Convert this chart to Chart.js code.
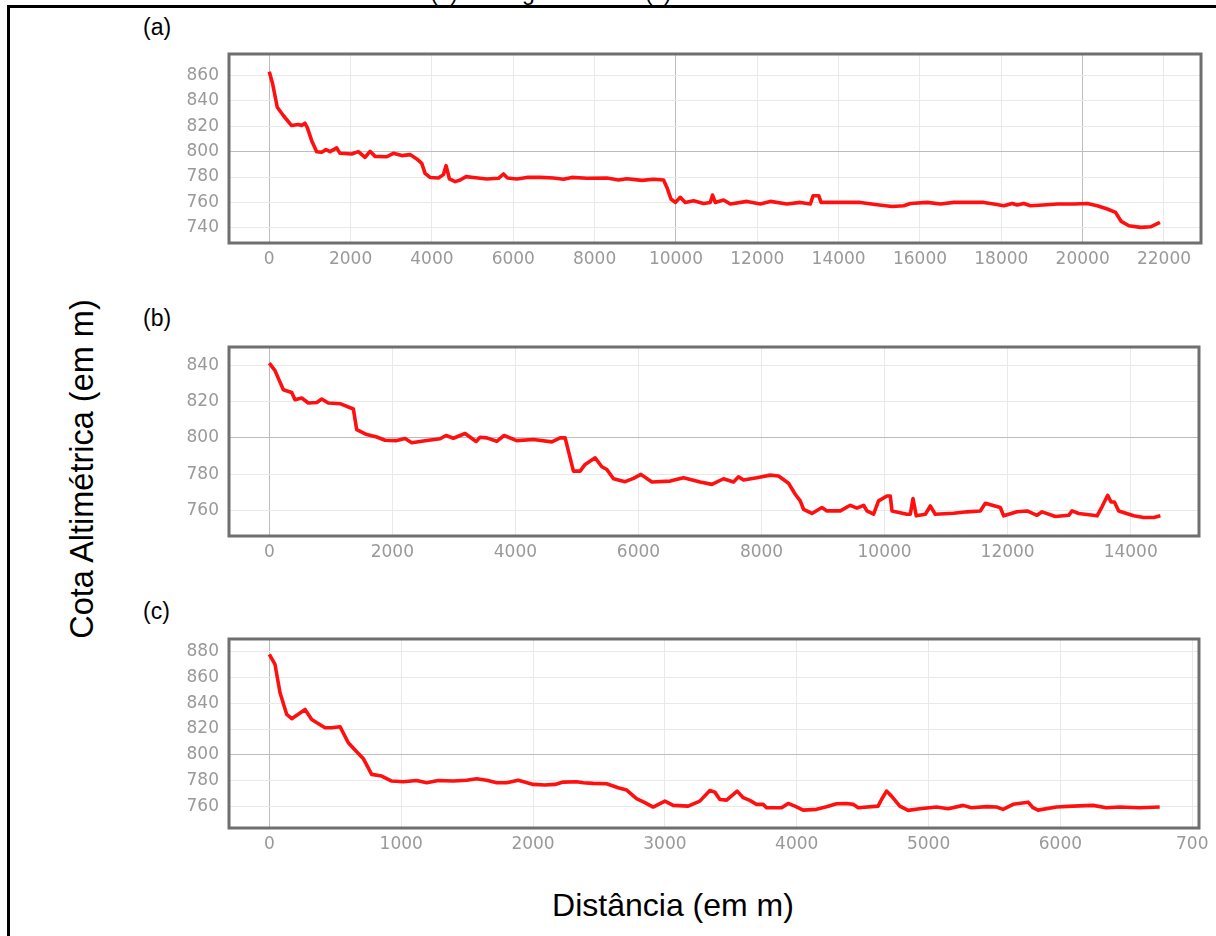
<!DOCTYPE html>
<html>
<head>
<meta charset="utf-8">
<script src="https://cdn.jsdelivr.net/npm/chart.js@4/dist/chart.umd.min.js"></script>
<style>
  html, body { margin: 0; padding: 0; background: #fff; }
  body { width: 1216px; height: 936px; position: relative; overflow: hidden; font-family: "Liberation Sans", Arial, sans-serif; }
  .abs { position: absolute; }
  .lbl { font-size: 23px; color: #000; line-height: 23px; white-space: nowrap; }
  canvas { position: absolute; }
</style>
</head>
<body>
<div class="abs lbl" style="left:430px; top:-19px;">(b) Córrego Fundo e (c)</div>
<div class="abs" style="left:7px; top:5px; width:1209px; height:3px; background:#000;"></div>
<div class="abs" style="left:7px; top:5px; width:3px; height:931px; background:#000;"></div>
<div class="abs lbl" style="left:143px; top:16px;">(a)</div>
<div class="abs lbl" style="left:143px; top:307px;">(b)</div>
<div class="abs lbl" style="left:143px; top:600px;">(c)</div>
<div class="abs" style="left:82px; top:469px; width:0; height:0;">
  <div style="position:absolute; transform: translate(-50%,-50%) rotate(-90deg); font-size:32.5px; white-space:nowrap; line-height:32px;">Cota Altimétrica (em m)</div>
</div>
<div class="abs" style="left:673px; top:905px; width:0; height:0;">
  <div style="position:absolute; transform: translate(-50%,-50%); font-size:32px; white-space:nowrap; line-height:32px;">Distância (em m)</div>
</div>

<canvas id="cA" width="1066" height="243" style="left:150px; top:30px;"></canvas>
<canvas id="cB" width="1066" height="243" style="left:150px; top:323px;"></canvas>
<canvas id="cC" width="1066" height="243" style="left:150px; top:615px;"></canvas>

<script>
// ---- Panel (a) ----
const distA = [0, 83, 197, 345, 550, 715, 797, 878, 936, 1043, 1166, 1289, 1395, 1494, 1658, 1740, 2027, 2190, 2355, 2478, 2601, 2888, 3051, 3258, 3462, 3627, 3750, 3831, 3954, 4159, 4282, 4348, 4430, 4570, 4693, 4840, 5020, 5350, 5635, 5759, 5857, 6088, 6334, 6661, 6990, 7235, 7441, 7810, 8302, 8589, 8794, 9164, 9449, 9695, 9778, 9877, 9983, 10106, 10229, 10433, 10679, 10844, 10900, 10967, 11171, 11336, 11747, 12074, 12320, 12731, 13058, 13305, 13371, 13510, 13568, 13879, 14535, 14946, 15315, 15601, 15766, 16176, 16503, 16831, 17569, 17815, 18061, 18268, 18391, 18553, 18718, 19128, 19375, 19784, 20113, 20359, 20606, 20810, 20950, 21137, 21425, 21671, 21900];
const elevA = [863, 853.5, 835, 828.5, 820.6, 821.4, 820.6, 822.4, 819, 808.7, 800, 799.5, 801.6, 800, 803, 798.7, 798.2, 800, 795.5, 800.3, 796.3, 796, 798.7, 796.9, 797.7, 794.3, 790.8, 782.9, 779.7, 779.2, 781.9, 789, 778.5, 776.4, 777.7, 780.3, 779.7, 778.5, 779, 782.4, 779.2, 778.5, 779.7, 779.7, 779.2, 778.2, 779.7, 779, 779.2, 777.7, 778.7, 777.4, 778.2, 777.7, 771.8, 762.7, 760, 764, 760, 761.3, 759.2, 760, 765.8, 760, 761.9, 758.7, 760.8, 758.7, 760.8, 758.7, 760, 758.7, 765.3, 765.3, 760, 760, 760, 758.2, 756.8, 757.4, 759.2, 760, 758.7, 760, 760, 758.7, 757.4, 759.2, 757.9, 759.2, 757.4, 758.2, 758.7, 758.7, 759.2, 757.4, 754.8, 752.1, 745, 741.6, 740.3, 740.8, 744.2];
const xTicksA = [0, 2000, 4000, 6000, 8000, 10000, 12000, 14000, 16000, 18000, 20000, 22000];
const yTicksA = [740, 760, 780, 800, 820, 840, 860];

// ---- Panel (b) ----
const distB = [0, 93, 228, 364, 418, 527, 634, 771, 852, 959, 1150, 1366, 1421, 1584, 1746, 1881, 2071, 2207, 2315, 2559, 2776, 2873, 2992, 3182, 3361, 3426, 3535, 3697, 3816, 4022, 4293, 4592, 4727, 4808, 4943, 5052, 5133, 5296, 5405, 5486, 5594, 5784, 5919, 6039, 6218, 6515, 6732, 7003, 7193, 7382, 7545, 7626, 7707, 7925, 8141, 8277, 8439, 8548, 8629, 8683, 8819, 8982, 9063, 9280, 9442, 9551, 9659, 9713, 9821, 9902, 10039, 10093, 10120, 10364, 10418, 10462, 10515, 10662, 10743, 10824, 11122, 11340, 11556, 11637, 11881, 11935, 12153, 12315, 12478, 12559, 12776, 12992, 13047, 13155, 13454, 13535, 13626, 13681, 13735, 13805, 14049, 14211, 14374, 14483];
const elevB = [841.1, 837, 826.5, 825, 821, 821.9, 819.2, 819.5, 821.4, 819.2, 818.8, 815.9, 804.5, 801.8, 800.5, 798.7, 798.5, 799.6, 797.3, 798.5, 799.5, 801.3, 799.8, 802.4, 798, 800.3, 800, 798.1, 801.3, 798.5, 799.1, 797.8, 800, 800, 781.7, 781.7, 785.4, 789, 784.1, 782.6, 777.5, 775.9, 777.7, 779.9, 775.7, 776.2, 778.1, 775.7, 774.4, 777.5, 775.7, 778.6, 776.8, 778.1, 779.5, 779, 775, 769, 765.3, 760.7, 758.4, 761.7, 759.8, 759.8, 762.9, 761.3, 762.9, 759.8, 758, 765.3, 768, 768, 759.8, 758, 758, 766.6, 757.1, 758, 762.5, 758, 758.5, 759.3, 759.8, 764, 761.7, 757.1, 759.3, 759.8, 757.4, 759.3, 756.7, 757.4, 759.8, 758.4, 757.1, 762.2, 768.4, 764.7, 764.7, 759.8, 757.1, 756.2, 756.2, 757.1];
const xTicksB = [0, 2000, 4000, 6000, 8000, 10000, 12000, 14000];
const yTicksB = [760, 780, 800, 820, 840];

// ---- Panel (c) ----
const distC = [0, 43, 81, 132, 170, 271, 321, 422, 473, 536, 599, 650, 713, 776, 852, 928, 1016, 1117, 1193, 1281, 1395, 1497, 1572, 1648, 1724, 1800, 1888, 2002, 2090, 2166, 2229, 2331, 2381, 2456, 2558, 2646, 2710, 2785, 2848, 2911, 3000, 3063, 3177, 3265, 3341, 3379, 3417, 3468, 3548, 3594, 3644, 3695, 3745, 3771, 3885, 3935, 3986, 4049, 4150, 4226, 4302, 4378, 4428, 4466, 4617, 4643, 4681, 4719, 4782, 4845, 4933, 5060, 5148, 5262, 5325, 5439, 5515, 5565, 5641, 5755, 5792, 5830, 5970, 6096, 6247, 6349, 6450, 6601, 6753];
const elevC = [878, 870.2, 848.2, 831.3, 828, 835.2, 827.4, 821, 821, 821.8, 809.3, 803.6, 796.9, 784.7, 783.4, 779.5, 779, 780, 778.2, 780, 779.5, 780.2, 781.3, 780.2, 778.2, 778.2, 780.2, 776.9, 776.4, 776.9, 778.7, 779, 778.2, 777.7, 777.4, 774.3, 772.5, 765.8, 762.7, 759.3, 763.9, 760.6, 760, 763.9, 772.2, 770.9, 765.2, 764.7, 771.7, 766.6, 764.5, 761.4, 761.4, 758.8, 758.8, 762.1, 760, 756.9, 757.5, 759.6, 761.9, 762.1, 761.4, 758.8, 760, 765.2, 771.7, 767.8, 760, 756.7, 758, 759.3, 758, 760.6, 758.8, 759.6, 759.3, 757.5, 761.4, 763.1, 758.8, 756.9, 759.3, 760, 760.6, 758.8, 759.3, 758.8, 759.3];
const xTicksC = [0, 1000, 2000, 3000, 4000, 5000, 6000, 7000];
const yTicksC = [760, 780, 800, 820, 840, 860, 880];

const LIGHT = '#e9e9e9';
const DARK = '#bcbcbc';
const TICKCOL = '#999999';
const TICKFONT = { family: 'DejaVu Sans', size: 17 };

const framePlugin = {
  id: 'frame',
  afterDraw(chart) {
    const { ctx, chartArea: a } = chart;
    ctx.save();
    ctx.strokeStyle = '#6f6f6f';
    ctx.lineWidth = 3;
    ctx.strokeRect(a.left, a.top, a.right - a.left, a.bottom - a.top);
    ctx.restore();
  }
};

function makeChart(id, dist, elev, xTicks, yTicks, xr, yr, majorX, majorY, rightPad, xLabelFn) {
  const pts = dist.map((d, i) => ({ x: d, y: elev[i] }));
  return new Chart(document.getElementById(id), {
    type: 'line',
    data: { datasets: [{ data: pts, borderColor: '#ff1010', borderWidth: 3.6, pointRadius: 0, tension: 0, fill: false, borderJoinStyle: 'round' }] },
    options: {
      responsive: false,
      animation: false,
      events: [],
      layout: { padding: { top: 24, right: rightPad, left: 0, bottom: 0 } },
      plugins: { legend: { display: false }, tooltip: { enabled: false } },
      scales: {
        x: {
          type: 'linear', min: xr[0], max: xr[1],
          afterBuildTicks: (ax) => { ax.ticks = xTicks.map(v => ({ value: v })); },
          afterFit: (ax) => { ax.height = 30; },
          grid: { drawTicks: false, lineWidth: 1, color: (c) => (c.tick && majorX.includes(c.tick.value)) ? DARK : LIGHT },
          border: { display: false },
          ticks: { color: TICKCOL, font: TICKFONT, padding: 6, maxRotation: 0, autoSkip: false, callback: xLabelFn || ((v) => String(v)) }
        },
        y: {
          type: 'linear', min: yr[0], max: yr[1],
          afterBuildTicks: (ax) => { ax.ticks = yTicks.map(v => ({ value: v })); },
          afterFit: (ax) => { ax.width = 79; },
          grid: { drawTicks: false, lineWidth: 1, color: (c) => (c.tick && majorY.includes(c.tick.value)) ? DARK : LIGHT },
          border: { display: false },
          ticks: { color: TICKCOL, font: TICKFONT, padding: 10, autoSkip: false, callback: (v) => String(v) }
        }
      }
    },
    plugins: [framePlugin]
  });
}

makeChart('cA', distA, elevA, xTicksA, yTicksA, [-990, 22910], [728, 877], [0, 10000, 20000], [800], 15);
makeChart('cB', distB, elevB, xTicksB, yTicksB, [-655, 15110], [746, 850], [0], [800], 17);
makeChart('cC', distC, elevC, xTicksC, yTicksC, [-306, 7051], [743, 890], [0], [800], 17, (v) => v === 7000 ? '700' : String(v));
</script>
</body>
</html>
